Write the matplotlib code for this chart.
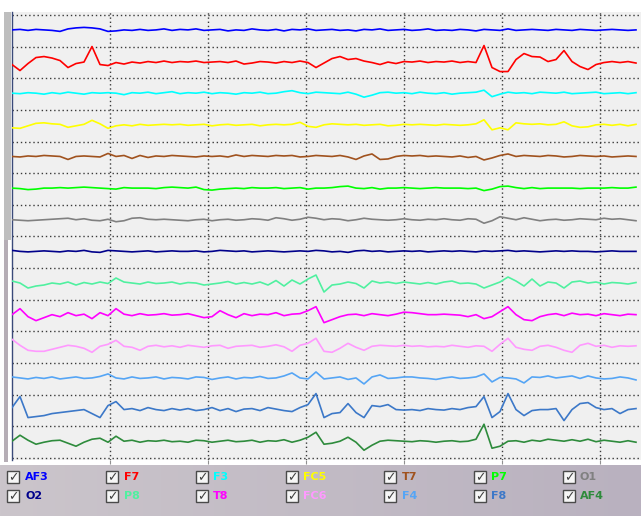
import numpy as np
import matplotlib.pyplot as plt
from matplotlib.patches import Rectangle

# channel names, top to bottom, and their trace colours
channels = ["AF3", "F7", "F3", "FC5", "T7", "P7", "O1",
            "O2", "P8", "T8", "FC6", "F4", "F8", "AF4"]
colors = ["#0000ff", "#ff0000", "#00ffff", "#ffff00", "#a0521e", "#00ff00", "#808080",
          "#00008b", "#50f0a0", "#ff00ff", "#ff99ff", "#55a5f5", "#3c78c8", "#2e8b3c"]

# readings (uV, positive up), one sample every 8 px of the screen
AF3 = [0, 0.5, -0.5, 0.5, 0, -0.5, -1.5, 1, 2, 2.5,
       2, 1, -1.5, -1, 0, -0.5, 0.5, -0.5, 0, 1,
       -0.5, 0.5, 0, 1, -0.5, 0, 0.5, -1, 0, -0.5,
       1, 0, -0.5, 0.5, -1, 0.5, 0, 1, -0.5, 0,
       0.5, -0.5, 0, -1, 0.5, 0, 1, -0.5, 0, 0.5,
       -0.5, 0, 1, -0.5, 0, -0.5, 0.5, 0, -1, 0.5,
       0, -0.5, 1, -0.5, 0, 0.5, 0, -0.5, 0.5, 0,
       -0.5, 0.5, 0, -0.5, 0, 0.5, 0, -0.5, 0]
F7 = [-3, -9, -2, 4, 5, 3.5, 1, -6, -2, -0.5,
      15, -3, -4, -1, -2.5, -0.5, -1.5, 0, -1, 0.5,
      -1, 0, -0.5, 0.5, -1, -0.5, 0, -1, 0.5, -2.5,
      -1.5, 0, -0.5, -1.5, 0, -1, 0.5, -1, -6, -1.5,
      3, 5, 2, 3, 0.5, -1, -3, -0.5, -2, 0,
      -0.5, 0.5, -1, 0, -0.5, 0.5, -1, 0, -1, 16,
      -6, -10, -10, 2, 8, 5, 4.5, 0, 2, 11,
      0, -5, -8, -3, -1, 0, -1, 0, -1.5]
F3 = [0, -0.5, 0.5, 0, -1, 0.5, -0.5, 1, 0, -1,
      0.5, 0, 0.5, 0, -1.5, 0.5, 0, 1, -0.5, 0.5,
      1.5, -0.5, 0.5, 0, 1, -0.5, 0.5, 0, -1, 0.5,
      0, 1, -0.5, 0, 1.5, 2.5, 0.5, -0.5, 1, 0.5,
      0, -0.5, 1, -1, -4, -2, 0.5, 1, 0, 0.5,
      -0.5, 1, 0, -0.5, 0.5, -1, 0, 0.5, 1, 3,
      -3.5, -1, 1, 0, 0.5, -0.5, 1, 0.5, 0, 1,
      -0.5, 0, 0.5, 1, -0.5, 0, 0.5, -0.5, 0.5]
FC5 = [-3, -3.5, -1, 1.5, 2, 1, 0.5, -2.5, -1, 0.5,
       4.5, 1, -3.5, -1, 0, -1, 0.5, -0.5, 0, 0.5,
       0, 0.5, -0.5, 0, 0.5, -1, 0, 0.5, -0.5, 0,
       0.5, -1, 0, 0.5, 0, 0.5, 2.5, -1.5, -2.5, 0,
       1, 0.5, 0, 0.5, -0.5, 0, 0.5, -1, -0.5, 0.5,
       0, 0.5, 0, -0.5, 0.5, 0, -0.5, 0, 1, 5,
       -5, -3, -5, 2, 1, 0.5, 1, 0, 0.5, 3,
       -1, -2.5, -2, 0, 0.5, -0.5, 0.5, -1, 0.5]
T7 = [0, -0.5, 0.5, 0, 1, 0.5, 0, -3, 0, 0.5,
      0, -0.5, 3, 0, 1, -2, 1, -1, 0.5, 0,
      1, 0.5, 0, -0.5, 0.5, 0, 0.5, -0.5, 1.5, 0,
      1, 0.5, 0, 1, 0.5, 1, -0.5, 0, 1, 0.5,
      0, 1, -0.5, -3, 0.5, 2.5, -3, -2.5, 0, 1,
      0.5, 1, 0, 0.5, 0, -0.5, 0.5, -1, 0, -3.5,
      -1.5, 1, 2.5, 0, 1, 0.5, 0, 1, 0.5, -0.5,
      0, 1, 0.5, 0, 0.5, -0.5, 0, 0.5, 0]
P7 = [0, -0.5, -1.5, -1, 0, 0, 0.5, 0, 0.5, 1,
      0.5, 0, -0.5, -1, 0.5, 0, 0, 0, -0.5, 0.5,
      1, 0.5, 0, 1, -1.5, -2, -1, -0.5, 0, -0.5,
      0.5, 0, 0, 0.5, -0.5, 0, 0.5, -1, 0, 0,
      0.5, 1.5, 2, 0, -0.5, 0.5, -1, 0, 0, 0.5,
      0, -0.5, 0, 0.5, 0, 0, 0, -0.5, 0, -2.5,
      -1, 1.5, 2, 0.5, -0.5, 0.5, -0.5, 0, 0, 0,
      0, -0.5, 0, 0, 0, 0.5, 0, 0, 1]
O1 = [0, -0.5, -1, -0.5, 0, 0.5, 1, 1.5, 0, 1,
      -0.5, -1, 0.5, -2, -1, 1.5, 2, 0.5, 0, 0.5,
      0, -0.5, -1, 0, 0.5, -1, 0, 0.5, -0.5, 0,
      1, 0.5, -0.5, 2, 1, -0.5, 0.5, 2.5, 1.5, 0,
      1, 0.5, -1, 0, 1.5, 0.5, 0, -0.5, 0, 1,
      0, -0.5, 0.5, 0, 1, 0, -0.5, 1, 0.5, -3.5,
      -1, 3, 1.5, 0, 2, 0.5, -1, 0, 0.5, -0.5,
      0, 1, 0.5, 0, 1.5, 0.5, 1, 0, -1]
O2 = [1, 0, -0.5, 0, 0.5, 0, -0.5, 0.5, 0, 1,
      -0.5, -1, 1, 0.5, 0, -0.5, 0, 0.5, -0.5, 0,
      0.5, 0, 0, 0.5, -0.5, 0, 1, 0.5, 0, 0.5,
      -0.5, 0, 0.5, 0, -0.5, 0, 0.5, 0, 1, 0.5,
      -0.5, 0, -1, 0.5, 1, 0, 0.5, -0.5, 0, 0.5,
      0, 0.5, -0.5, 0, 0.5, 0, 0.5, 0, -0.5, 0.5,
      0, 0.5, 1, 0, 0.5, 0, -0.5, 0, 0.5, 0,
      0.5, 0, 0, -0.5, 0, 0.5, 0, 0, 0]
P8 = [2, 0, -5, -3, -2, 0, -1, 1, -2, 0.5,
      -1, 1, -0.5, 5, 1, 0, -1, 1, -0.5, 0,
      1, -1, 0.5, 0, -2, -1, 0, 1.5, -1, 0.5,
      -1, 1, -2, 2.5, -3, 3, -1, 4, 8, -9,
      -2, -1, 1, -0.5, -5, 2, 0, 1, -0.5, 1,
      0, -1, 0.5, -1, 1, 2, -0.5, 0, -1, -5,
      -2, 1, 6, 2, -3, 4, -3, 1, 0, -5,
      1, 2, 0, 1, -1, 0.5, 0, -1, 0.5]
T8 = [0, 6, -2, -6, -3, 0, -2, 2, -1, 0.5,
      -4, 2, -1, 6, 0.5, -1, 1, -0.5, 0, 1,
      -0.5, 0, 1, -1, -3, -2, 4, 0, -3, 1,
      -1, 0.5, 0, 2, -1, 0.5, 1, 4, 8, -8,
      -5, -2, 0, 0.5, -1, 1, 0, -1, 0.5, 2.5,
      2, 1, 0, 0, 0.5, 0, -0.5, -2, 0, -4,
      -2, 3, 8, 0, -5, -6, -2, 0, 1, -1,
      1.5, 0, 0.5, -1, 1, 0, -1, 0.5, 0]
FC6 = [7, 1, -4, -5, -5, -3, -1, 1, 0, -2,
       -6, 0, 2, 6, 0, -1, -4, 0, 1, -0.5,
       0.5, -1, 1, 0, -1, 0.5, 1, -2, 0, 0.5,
       1, -1, 0, 1.5, -0.5, -5, 1, 3, 8, -5,
       -6, -2, 3, -1, -4, 0, 1, 0.5, 0, 1,
       0, 0.5, -0.5, 0, -0.5, 1, 0, -1, 0.5, 0,
       -5, 2, 8, -1, -3, -4, 0, 1, -1, -4,
       -6, 1, 3, 0, 1, -1, 0.5, 0, 0.5]
F4 = [1, 0, -1, 0.5, -0.5, 1, -1, 0, 1, -0.5,
      0, 1.5, 4, 0, -1, 1, -0.5, 0, 1, -1,
      0.5, 0, -1, 1, 0.5, -1.5, 0, 1, -1, 0.5,
      0, 1.5, -0.5, 0, 2, 5, 0, -1, 6, -1,
      0, 1, -1.5, 0, -6, 1, 3, -0.5, 0, 1,
      1, 0, -0.5, -1.5, 0, 1, -0.5, 0, 1, 4,
      -4, 0.5, 0, -1, -5, 1, 0.5, 2, 0, 1,
      2, -0.5, 2, 0, -1, -0.5, 1, 0, -2]
F8 = [2, 13, -8, -7, -6, -4, -3, -2, -1, 0,
      -4, -8, 4, 8, 0, 1, -1, 2, 0, -1,
      1, -0.5, 1, -1, 0, 2, -1, 1, -2, 0.5,
      1, -1, 2, 0.5, -1, -2, 2, 5, 16, -8,
      -4, -3, 6, -3, -8, 4, 3, 5, 0, -0.5,
      0, -1, 1, 0, -0.5, 1, 0, 2, 3, 13,
      -8, -2, 16, 0, -6, -1, 0, 0, 1, -11,
      0, 6, 7, 2, 0, 1, -4, 0, 1]
AF4 = [0, 6, 1, -3, -1, 0.5, 1, -2, -5, -1,
       2, 3, -1, 5, 0, 1, -1, 0.5, 0, 1,
       -0.5, 0, -1, 1, 0.5, -1, 0, 1, -0.5, 0,
       1, -1, 0.5, 0, 1.5, -1, 1, 4, 9, -3,
       -2, 0, 4, -1, -9, -4, 0, 1, 0.5, 0,
       -0.5, 0.5, 0, -1, 0, 0.5, -0.5, 0, 2, 17,
       -7, -5, 0, 0.5, -1, 1, 0, 2, 1, 0,
       1.5, 0, 2, -0.5, 1, 0, -1, 0.5, -1]

signals = [AF3, F7, F3, FC5, T7, P7, O1, O2, P8, T8, FC6, F4, F8, AF4]

W, H = 641, 516
fig = plt.figure(figsize=(W / 100, H / 100), dpi=100, facecolor="white")

# background layer in screen pixels: scroll strip + checkbox panel
bg = fig.add_axes([0, 0, 1, 1])
bg.set_xlim(0, W)
bg.set_ylim(H, 0)
bg.axis("off")
grad = np.linspace(0, 1, 256)[None, :]
bg.imshow(grad, extent=(0, W, 516, 465), aspect="auto",
          cmap=plt.matplotlib.colors.LinearSegmentedColormap.from_list("p", ["#cbc5cb", "#b9b1bf"]),
          zorder=0)
bg.add_patch(Rectangle((4, 12), 7, 228, facecolor="#bebebe", edgecolor="none"))
bg.add_patch(Rectangle((4, 240), 4, 222, facecolor="#b6aeb6", edgecolor="none"))

# checkbox legend
box_x = [7, 106, 196, 286, 384, 474, 563]
text_x = [25, 124, 213, 303, 402, 491, 580]
row_y = [477, 496]
for k, (name, col) in enumerate(zip(channels, colors)):
    r, c = divmod(k, 7)
    y = row_y[r]
    bg.add_patch(Rectangle((box_x[c], y - 6), 12, 12, facecolor="#f6f6f6",
                           edgecolor="#4a4a4a", lw=1.0, zorder=2))
    bg.text(box_x[c] + 6, y + 0.5, "\u2713", ha="center", va="center",
            fontsize=9, color="#404040", zorder=3)
    bg.text(text_x[c], y, name, ha="left", va="center", fontsize=8,
            fontweight="bold", color=col, zorder=3)

# main trace panel
sp = 31.64
ax = fig.add_axes([12 / W, (H - 460) / H, (W - 12) / W, 448 / H])
ax.set_facecolor("#f0f0f0")
ax.set_xlim(12, W)
ax.set_ylim(29.9 - 460, 29.9 - 12)
for k in range(15):
    ax.axhline(14.9 - k * sp, color="#3a3a3a", lw=1.0, ls=(0, (1, 2)), zorder=1)
vx = [110, 208, 306, 404, 502, 600]
for x in vx:
    ax.axvline(x, color="#3a3a3a", lw=1.0, ls=(0, (1, 2)), zorder=1)

for k, (sig, col) in enumerate(zip(signals, colors)):
    t = np.linspace(12, 636, len(sig))
    ax.plot(t, np.array(sig) - k * sp, color=col, lw=1.2, zorder=3)

ax.set_yticks([])
ax.set_xticks(vx)
ax.set_xticklabels([])
ax.tick_params(axis="x", direction="out", length=3, color="#909090")
for s in ["top", "right", "bottom"]:
    ax.spines[s].set_visible(False)
ax.spines["left"].set_color("#3a4a7a")
ax.spines["left"].set_linewidth(1.0)

fig.savefig("out.png", dpi=100, facecolor="white")
